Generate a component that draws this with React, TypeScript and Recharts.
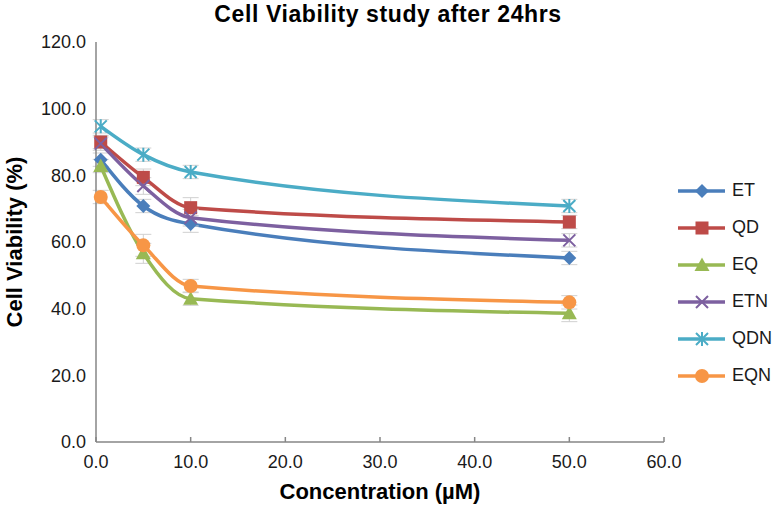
import React from 'react'
import {
  LineChart,
  Line,
  XAxis,
  YAxis,
  Legend,
  ErrorBar,
} from 'recharts'

// concentrations (µM)
const concentrations = [0.5, 5, 10, 50]

// cell viability (%) per formulation
const et = [84.7, 70.8, 65.4, 55.2]
const qd = [90.0, 79.4, 70.3, 66.0]
const eq = [82.8, 56.6, 43.0, 38.6]
const etn = [89.5, 76.8, 67.3, 60.5]
const qdn = [94.7, 86.2, 81.0, 70.8]
const eqn = [73.5, 59.0, 46.8, 41.9]

// error bars (%)
const etErr = [2.0, 2.0, 2.5, 2.0]
const qdErr = [2.0, 2.5, 3.0, 2.0]
const eqErr = [2.0, 3.0, 2.0, 2.5]
const etnErr = [2.0, 2.5, 2.5, 2.0]
const qdnErr = [2.0, 2.0, 2.0, 2.0]
const eqnErr = [2.0, 3.3, 2.0, 2.0]

const xTicks = [0, 10, 20, 30, 40, 50, 60]
const yTicks = [0, 20, 40, 60, 80, 100, 120]

const series = [
  { key: 'ET', values: et, err: etErr, color: '#4A7EBB', shape: 'diamond' },
  { key: 'QD', values: qd, err: qdErr, color: '#BE4B48', shape: 'square' },
  { key: 'EQ', values: eq, err: eqErr, color: '#98B954', shape: 'triangle' },
  { key: 'ETN', values: etn, err: etnErr, color: '#7D60A0', shape: 'x' },
  { key: 'QDN', values: qdn, err: qdnErr, color: '#4BACC6', shape: 'star' },
  { key: 'EQN', values: eqn, err: eqnErr, color: '#F79646', shape: 'circle' },
]

const data = concentrations.map((c, i) => {
  const row: any = { conc: c }
  series.forEach((s) => {
    row[s.key] = s.values[i]
    row[s.key + 'Err'] = s.err[i]
  })
  return row
})

const font = '"Liberation Sans", Arial, Helvetica, sans-serif'
const axisColor = '#868686'

function Marker({ shape, cx, cy, color }: any) {
  if (cx == null || cy == null) return null
  switch (shape) {
    case 'diamond':
      return <path d={`M${cx},${cy - 7}L${cx + 7},${cy}L${cx},${cy + 7}L${cx - 7},${cy}Z`} fill={color} />
    case 'square':
      return <rect x={cx - 6.5} y={cy - 6.5} width={13} height={13} fill={color} />
    case 'triangle':
      return <path d={`M${cx},${cy - 7.5}L${cx + 7.5},${cy + 6}L${cx - 7.5},${cy + 6}Z`} fill={color} />
    case 'x':
      return (
        <path
          d={`M${cx - 6},${cy - 6}L${cx + 6},${cy + 6}M${cx - 6},${cy + 6}L${cx + 6},${cy - 6}`}
          stroke={color}
          strokeWidth={2}
        />
      )
    case 'star':
      return (
        <path
          d={`M${cx - 6},${cy - 6}L${cx + 6},${cy + 6}M${cx - 6},${cy + 6}L${cx + 6},${cy - 6}M${cx},${cy - 7}L${cx},${cy + 7}`}
          stroke={color}
          strokeWidth={2}
        />
      )
    default:
      return <circle cx={cx} cy={cy} r={7} fill={color} />
  }
}

function XTick({ x, y, payload }: any) {
  return (
    <g>
      <line x1={x} y1={y} x2={x} y2={y - 5} stroke={axisColor} strokeWidth={1.5} />
      <text x={x} y={y + 13} dy="0.71em" textAnchor="middle" fontSize={18} fontFamily={font} fill="#1a1a1a">
        {Number(payload.value).toFixed(1)}
      </text>
    </g>
  )
}

function LegendBox() {
  return (
    <div style={{ paddingLeft: 14 }}>
      {series.map((s) => (
        <div key={s.key} style={{ display: 'flex', alignItems: 'center', height: 37 }}>
          <svg width={48} height={18}>
            <line x1={0} y1={9} x2={47} y2={9} stroke={s.color} strokeWidth={3.5} />
            <Marker shape={s.shape} cx={24} cy={9} color={s.color} />
          </svg>
          <span style={{ fontFamily: font, fontSize: 18, color: '#1a1a1a', marginLeft: 6 }}>{s.key}</span>
        </div>
      ))}
    </div>
  )
}

export default function App() {
  return (
    <div style={{ position: 'absolute', left: 0, top: 0, width: 776, height: 506, background: '#fff' }}>
      <div
        style={{
          position: 'absolute',
          top: 1,
          left: 0,
          width: 776,
          textAlign: 'center',
          fontFamily: font,
          fontWeight: 'bold',
          fontSize: 23,
          letterSpacing: 0.6,
          color: '#000',
        }}
      >
        Cell Viability study after 24hrs
      </div>
      <LineChart width={776} height={506} data={data} margin={{ top: 42, right: 0, left: 0, bottom: 34 }}>
        <XAxis
          dataKey="conc"
          type="number"
          domain={[0, 60]}
          ticks={xTicks}
          tick={<XTick />}
          tickSize={0}
          tickMargin={0}
          height={30}
          stroke={axisColor}
          strokeWidth={1.5}
          label={{
            content: ({ viewBox }: any) => (
              <text
                x={viewBox.x + viewBox.width / 2}
                y={viewBox.y + 57}
                textAnchor="middle"
                fontFamily={font}
                fontWeight="bold"
                fontSize={22}
                fill="#000"
              >
                Concentration (µM)
              </text>
            ),
          }}
        />
        <YAxis
          type="number"
          domain={[0, 120]}
          ticks={yTicks}
          width={96}
          tickSize={0}
          tickMargin={10}
          tickFormatter={(v: number) => v.toFixed(1)}
          tick={{ fontSize: 18, fontFamily: font, fill: '#1a1a1a' }}
          stroke={axisColor}
          strokeWidth={1.5}
          label={{
            content: ({ viewBox }: any) => {
              const cx = 22
              const cy = viewBox.y + viewBox.height / 2
              return (
                <text
                  x={cx}
                  y={cy}
                  transform={`rotate(-90, ${cx}, ${cy})`}
                  textAnchor="middle"
                  fontFamily={font}
                  fontWeight="bold"
                  fontSize={22}
                  fill="#000"
                >
                  Cell Viability (%)
                </text>
              )
            },
          }}
        />
        <Legend
          layout="vertical"
          align="right"
          verticalAlign="top"
          content={<LegendBox />}
          wrapperStyle={{ left: 664, top: 172, width: 112 }}
        />
        {series.map((s) => (
          <Line
            key={s.key}
            type="monotone"
            dataKey={s.key}
            stroke={s.color}
            strokeWidth={3.5}
            isAnimationActive={false}
            dot={(p: any) => <Marker key={p.index} shape={s.shape} cx={p.cx} cy={p.cy} color={s.color} />}
            activeDot={false}
          >
            <ErrorBar dataKey={s.key + 'Err'} width={8} stroke="#d0d0d0" strokeWidth={1} direction="y" />
          </Line>
        ))}
      </LineChart>
    </div>
  )
}
